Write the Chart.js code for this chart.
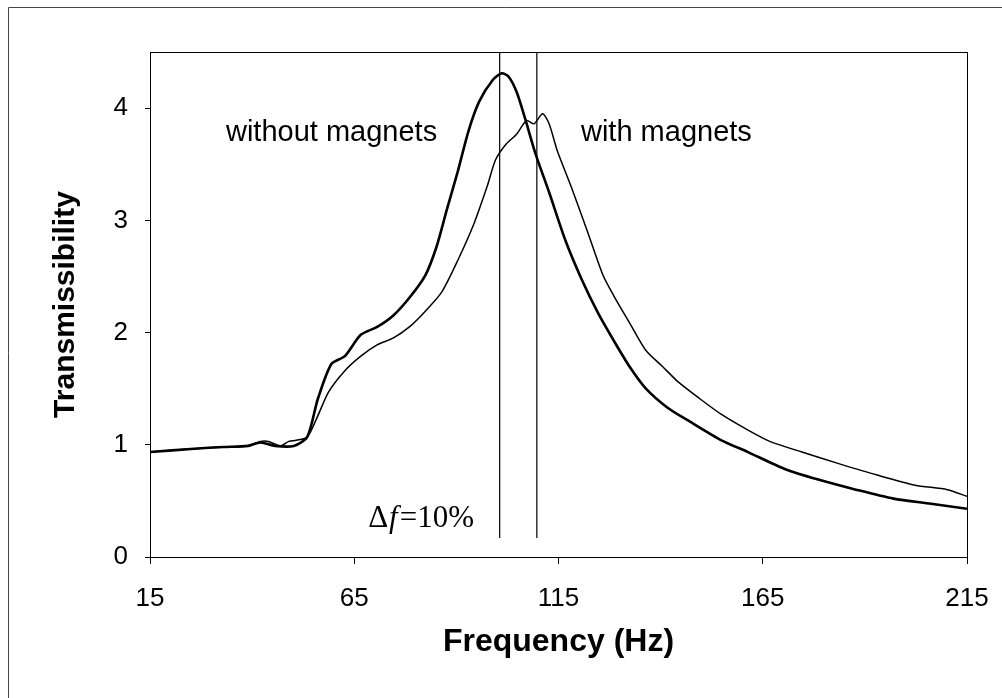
<!DOCTYPE html>
<html>
<head>
<meta charset="utf-8">
<script src="https://cdn.jsdelivr.net/npm/chart.js@4"></script>
<style>
  html, body { margin: 0; padding: 0; background: #fff; }
  #wrap { width: 1002px; height: 698px; position: relative; }
</style>
</head>
<body>
<div id="wrap"><canvas id="chart" width="1002" height="698"></canvas></div>
<script>
// frequency (Hz) / transmissibility
const freqWithout = [15, 25.8, 33, 39, 42, 45.6, 50.2, 53.5, 56.1, 59.4, 62.7, 66.6, 70.6, 74.5, 78.5, 82.4, 85.1, 87.7, 90.3, 93, 95.6, 98.9, 101.1, 102.8, 104.8, 106.8, 109.4, 112.7, 116.7, 120.6, 124.6, 128.5, 132.5, 136.4, 141.7, 147, 154.9, 161.4, 170.7, 178.6, 187.8, 197, 206.2, 215];
const valWithout  = [0.935, 0.965, 0.98, 0.99, 1.02, 0.99, 0.99, 1.07, 1.41, 1.72, 1.79, 1.98, 2.05, 2.15, 2.31, 2.51, 2.76, 3.10, 3.43, 3.80, 4.06, 4.25, 4.31, 4.28, 4.14, 3.91, 3.59, 3.25, 2.82, 2.48, 2.18, 1.93, 1.69, 1.50, 1.33, 1.21, 1.04, 0.935, 0.78, 0.69, 0.60, 0.52, 0.475, 0.43];

const freqWith = [15, 25.8, 33, 39, 42, 44, 46.9, 49, 50.8, 53.5, 56.1, 58.7, 62.7, 66.6, 70.6, 74.5, 78.5, 82.4, 86.4, 90.3, 94.3, 97.6, 99.6, 102.2, 104.8, 107.2, 109, 111.1, 112.7, 114.7, 118, 122, 125.9, 128.5, 132.5, 136.4, 140.4, 144.3, 149.6, 154.9, 161.4, 166.7, 174.6, 183.8, 193, 202.3, 210.2, 215];
const valWith  = [0.935, 0.965, 0.98, 0.99, 1.03, 1.03, 0.99, 1.03, 1.04, 1.07, 1.26, 1.47, 1.66, 1.79, 1.89, 1.95, 2.05, 2.19, 2.36, 2.64, 2.97, 3.31, 3.54, 3.68, 3.77, 3.89, 3.86, 3.95, 3.86, 3.62, 3.31, 2.91, 2.51, 2.33, 2.08, 1.84, 1.70, 1.56, 1.41, 1.27, 1.13, 1.03, 0.935, 0.83, 0.73, 0.64, 0.60, 0.54];

// resonance markers
const markerFreqs = [100.6, 109.7];
const markerRange = [0.17, 4.5];

const xTicks = [15, 65, 115, 165, 215];
const yTicks = [0, 1, 2, 3, 4];

const toPoints = (xs, ys) => xs.map((x, i) => ({ x: x, y: ys[i] }));

const datasets = [
    { label: 'without magnets', data: toPoints(freqWithout, valWithout), borderColor: '#000', borderWidth: 2.6, tension: 0.25 },
    { label: 'with magnets', data: toPoints(freqWith, valWith), borderColor: '#000', borderWidth: 1.5, tension: 0.25 }
];
markerFreqs.forEach(f => {
    datasets.push({ label: 'marker', data: [{ x: f, y: markerRange[0] }, { x: f, y: markerRange[1] }], borderColor: '#000', borderWidth: 1.2 });
});

const sans = '"Liberation Sans", Arial, sans-serif';
const serif = '"Liberation Serif", "Times New Roman", serif';

// frame, plot box and the text labels inside the plot
const decorations = {
    id: 'decorations',
    beforeDraw(chart) {
        const ctx = chart.ctx;
        ctx.save();
        ctx.strokeStyle = '#444';
        ctx.lineWidth = 1;
        ctx.beginPath();
        ctx.moveTo(8.5, 698);
        ctx.lineTo(8.5, 7.5);
        ctx.lineTo(1002, 7.5);
        ctx.stroke();
        ctx.restore();
    },
    afterDatasetsDraw(chart) {
        const { ctx, chartArea: a, scales: { x, y } } = chart;
        ctx.save();
        ctx.strokeStyle = '#000';
        ctx.lineWidth = 1;
        ctx.strokeRect(a.left + 0.5, a.top + 0.5, a.right - a.left, a.bottom - a.top);

        ctx.fillStyle = '#000';
        ctx.textBaseline = 'alphabetic';
        ctx.textAlign = 'left';
        ctx.font = '29px ' + sans;
        ctx.fillText('without magnets', x.getPixelForValue(33.6), y.getPixelForValue(3.71));
        ctx.fillText('with magnets', x.getPixelForValue(120.5), y.getPixelForValue(3.71));

        // Δf=10%
        const bx = x.getPixelForValue(68.4), by = y.getPixelForValue(0.267);
        ctx.font = '31px ' + serif;
        ctx.fillText('Δ', bx, by);
        let w = ctx.measureText('Δ').width;
        ctx.font = 'italic 31px ' + serif;
        ctx.fillText('f', bx + w + 1, by);
        w += ctx.measureText('f').width + 3;
        ctx.font = '31px ' + serif;
        ctx.fillText('=10%', bx + w, by);
        ctx.restore();
    }
};

new Chart(document.getElementById('chart').getContext('2d'), {
    type: 'line',
    data: { datasets: datasets },
    options: {
        responsive: false,
        animation: false,
        events: [],
        parsing: false,
        elements: { point: { radius: 0 } },
        layout: { padding: { top: 52, right: 35, left: 0, bottom: 0 } },
        plugins: { legend: { display: false }, tooltip: { enabled: false } },
        scales: {
            x: {
                type: 'linear',
                min: 15,
                max: 215,
                afterBuildTicks: s => { s.ticks = xTicks.map(v => ({ value: v })); },
                afterFit: s => { s.height = 141; s.paddingLeft = 0; s.paddingRight = 0; },
                grid: { drawOnChartArea: false, drawTicks: true, tickLength: 7, color: '#000', lineWidth: 1 },
                border: { display: true, color: '#000' },
                ticks: { color: '#000', padding: 19, maxRotation: 0, font: { family: sans, size: 26 } },
                title: { display: true, text: 'Frequency (Hz)', color: '#000', padding: { bottom: 37 }, font: { family: sans, size: 32, weight: 'bold' } }
            },
            y: {
                type: 'linear',
                min: 0,
                max: 4.5,
                afterBuildTicks: s => { s.ticks = yTicks.map(v => ({ value: v })); },
                afterFit: s => { s.width = 150; s.paddingTop = 0; s.paddingBottom = 0; },
                grid: { drawOnChartArea: false, drawTicks: true, tickLength: 5, color: '#000', lineWidth: 1 },
                border: { display: true, color: '#000' },
                ticks: { color: '#000', padding: 17, font: { family: sans, size: 26 } },
                title: { display: true, text: 'Transmissibility', color: '#000', padding: { top: 48 }, font: { family: sans, size: 30, weight: 'bold' } }
            }
        }
    },
    plugins: [decorations]
});
</script>
</body>
</html>
